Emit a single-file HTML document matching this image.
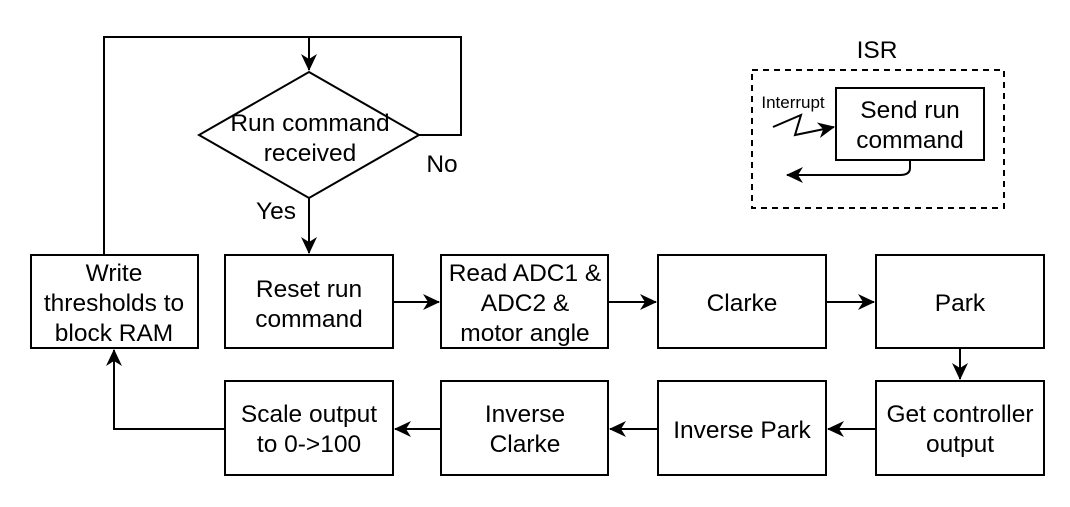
<!DOCTYPE html>
<html><head><style>html,body{margin:0;padding:0;background:#fff}</style></head><body>
<svg width="1070" height="502" xmlns="http://www.w3.org/2000/svg" font-family="Liberation Sans, sans-serif" font-size="24.5">
<defs><marker id="b" markerWidth="20" markerHeight="20" refX="16" refY="8" orient="auto" markerUnits="userSpaceOnUse"><path d="M0,0 L17,8 L0,16 L5,8 z" fill="#000"/></marker></defs>
<g fill="#fff" stroke="#000" stroke-width="2">
<polygon points="309,72 419,135 309,198 199,135"/>
<rect x="31" y="255" width="167" height="93"/>
<rect x="225" y="255" width="168" height="93"/>
<rect x="441" y="255" width="167" height="93"/>
<rect x="658" y="255" width="168" height="93"/>
<rect x="876" y="255" width="168" height="93"/>
<rect x="225" y="381" width="168" height="94"/>
<rect x="441" y="381" width="167" height="94"/>
<rect x="658" y="381" width="168" height="94"/>
<rect x="876" y="381" width="168" height="94"/>
<rect x="752" y="70" width="252" height="138" stroke-dasharray="6,5"/>
<rect x="836" y="88" width="148" height="72"/>
</g>
<g fill="none" stroke="#000" stroke-width="2">
<path d="M104,255 V37 H461 V135 H419"/>
<path d="M309,37 V70" marker-end="url(#b)"/>
<path d="M309,198 V253" marker-end="url(#b)"/>
<path d="M393,302 H439" marker-end="url(#b)"/>
<path d="M608,302 H656" marker-end="url(#b)"/>
<path d="M826,302 H874" marker-end="url(#b)"/>
<path d="M960,348 V379" marker-end="url(#b)"/>
<path d="M876,429 H828" marker-end="url(#b)"/>
<path d="M658,429 H610" marker-end="url(#b)"/>
<path d="M441,429 H395" marker-end="url(#b)"/>
<path d="M225,429 H114 V350" marker-end="url(#b)"/>
<path d="M773,127 L801,115 L795,135 L834,127" marker-end="url(#b)"/>
<path d="M910,160 V168 Q910,175 900,175 H787" marker-end="url(#b)"/>
</g>
<g text-anchor="middle" fill="#000">
<text x="310" y="131">Run command</text><text x="310" y="161">received</text>
<text x="442" y="172">No</text><text x="276" y="219">Yes</text>
<text x="114" y="281">Write</text><text x="114" y="311">thresholds to</text><text x="114" y="341">block RAM</text>
<text x="309" y="297">Reset run</text><text x="309" y="327">command</text>
<text x="525" y="281">Read ADC1 &amp;</text><text x="525" y="311">ADC2 &amp;</text><text x="525" y="341">motor angle</text>
<text x="742" y="311">Clarke</text><text x="960" y="311">Park</text>
<text x="309" y="422">Scale output</text><text x="309" y="452">to 0-&gt;100</text>
<text x="525" y="422">Inverse</text><text x="525" y="452">Clarke</text>
<text x="742" y="438">Inverse Park</text>
<text x="960" y="422">Get controller</text><text x="960" y="452">output</text>
<text x="877" y="58">ISR</text>
<text x="910" y="118">Send run</text><text x="910" y="148">command</text>
<text x="793" y="108" font-size="17">Interrupt</text>
</g>
</svg>
</body></html>
